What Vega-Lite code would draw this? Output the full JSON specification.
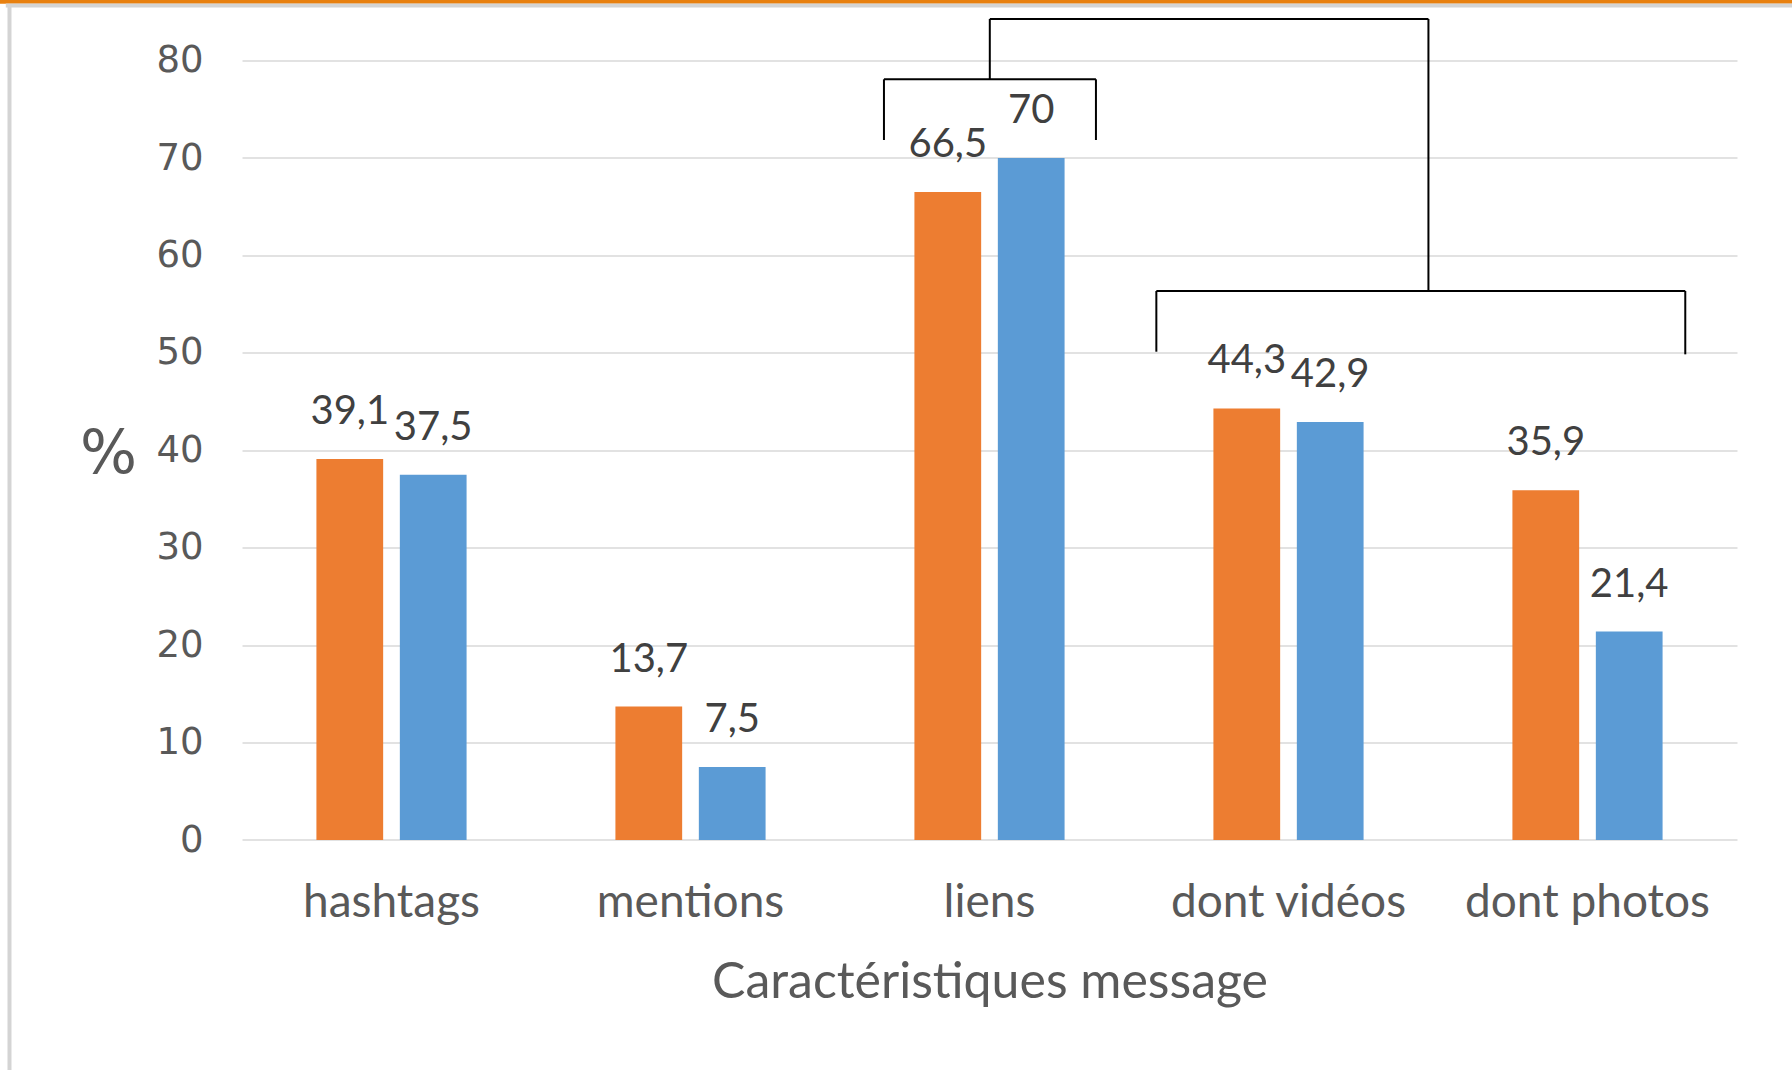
{
  "$schema": "https://vega.github.io/schema/vega-lite/v6.json",
  "width": 1495,
  "height": 779.4,
  "autosize": {"type": "none"},
  "padding": {"left": 242, "top": 60.6, "right": 55, "bottom": 230},
  "background": "white",
  "config": {
    "view": {"stroke": null},
    "locale": {"number": {"decimal": ",", "thousands": " ", "grouping": [3], "currency": ["", " €"]}}
  },
  "datasets": {
    "bars": [
      {"categorie": "hashtags", "serie": "A", "valeur": 39.1},
      {"categorie": "hashtags", "serie": "B", "valeur": 37.5},
      {"categorie": "mentions", "serie": "A", "valeur": 13.7},
      {"categorie": "mentions", "serie": "B", "valeur": 7.5},
      {"categorie": "liens", "serie": "A", "valeur": 66.5},
      {"categorie": "liens", "serie": "B", "valeur": 70},
      {"categorie": "dont vidéos", "serie": "A", "valeur": 44.3},
      {"categorie": "dont vidéos", "serie": "B", "valeur": 42.9},
      {"categorie": "dont photos", "serie": "A", "valeur": 35.9},
      {"categorie": "dont photos", "serie": "B", "valeur": 21.4}
    ],
    "brackets": [
      {"x": 2.147, "y": 71.85, "x2": 2.147, "y2": 78.08},
      {"x": 2.147, "y": 78.08, "x2": 2.856, "y2": 78.08},
      {"x": 2.856, "y": 78.08, "x2": 2.856, "y2": 71.85},
      {"x": 2.501, "y": 78.08, "x2": 2.501, "y2": 84.27},
      {"x": 2.501, "y": 84.27, "x2": 3.968, "y2": 84.27},
      {"x": 3.968, "y": 84.27, "x2": 3.968, "y2": 56.35},
      {"x": 3.058, "y": 56.35, "x2": 4.827, "y2": 56.35},
      {"x": 3.058, "y": 56.35, "x2": 3.058, "y2": 50.12},
      {"x": 4.827, "y": 56.35, "x2": 4.827, "y2": 49.85}
    ],
    "orangeStrip": [{"x": -0.82, "x2": 5.2, "y": 86.05, "y2": 86.05}],
    "greyStrip": [
      {"x": -0.79, "x2": 5.2, "y": 85.66, "y2": 85.66},
      {"x": -0.7776, "x2": -0.7776, "y": 85.7, "y2": -24}
    ]
  },
  "layer": [
    {
      "layer": [
        {
          "data": {"name": "bars"},
          "mark": {"type": "bar"},
          "encoding": {
            "x": {
              "field": "categorie", "type": "nominal",
              "sort": ["hashtags", "mentions", "liens", "dont vidéos", "dont photos"],
              "scale": {"paddingInner": 0.442, "paddingOuter": 0.221},
              "axis": {
                "labelFont": "Lato", "labelFontSize": 46, "labelColor": "#595959",
                "labelPadding": 40, "labelAngle": 0, "labelLimit": 0, "domain": false, "ticks": false,
                "title": "Caractéristiques message", "titleFont": "Lato", "titleFontSize": 50,
                "titleFontWeight": "normal", "titleColor": "#595959",
                "titleY": 157, "titleBaseline": "alphabetic"
              }
            },
            "xOffset": {"field": "serie", "type": "nominal", "scale": {"paddingInner": 0.2, "paddingOuter": 0.1}},
            "y": {
              "field": "valeur", "type": "quantitative",
              "scale": {"domain": [0, 80], "nice": false},
              "axis": {
                "values": [0, 10, 20, 30, 40, 50, 60, 70, 80],
                "labelFont": "DejaVu Sans", "labelFontSize": 37, "labelColor": "#595959",
                "labelPadding": 39, "grid": true, "gridColor": "#D9D9D9", "gridWidth": 1.5,
                "domain": false, "ticks": false,
                "title": "%", "titleAngle": 0, "titleFont": "DejaVu Sans", "titleFontSize": 60,
                "titleFontWeight": "normal", "titleColor": "#595959",
                "titleX": -134, "titleY": 393.6, "titleAlign": "center", "titleBaseline": "middle"
              }
            },
            "color": {
              "field": "serie", "type": "nominal",
              "scale": {"domain": ["A", "B"], "range": ["#ED7D31", "#5B9BD5"]},
              "legend": null
            }
          }
        },
        {
          "data": {"name": "bars"},
          "mark": {"type": "text", "baseline": "middle", "dy": -47, "font": "Lato", "fontSize": 40, "color": "#404040"},
          "encoding": {
            "x": {"field": "categorie", "type": "nominal", "sort": ["hashtags", "mentions", "liens", "dont vidéos", "dont photos"]},
            "xOffset": {"field": "serie", "type": "nominal"},
            "y": {"field": "valeur", "type": "quantitative"},
            "text": {"field": "valeur", "type": "quantitative", "format": ".1~f"}
          }
        }
      ]
    },
    {
      "layer": [
        {
          "data": {"name": "brackets"},
          "mark": {"type": "rule", "color": "#000000", "strokeWidth": 2},
          "encoding": {
            "x": {"field": "x", "type": "quantitative", "scale": {"domain": [0, 5], "nice": false, "zero": false}, "axis": null},
            "x2": {"field": "x2"},
            "y": {"field": "y", "type": "quantitative"},
            "y2": {"field": "y2"}
          }
        },
        {
          "data": {"name": "orangeStrip"},
          "mark": {"type": "rule", "color": "#E8800F", "strokeWidth": 4},
          "encoding": {
            "x": {"field": "x", "type": "quantitative"},
            "x2": {"field": "x2"},
            "y": {"field": "y", "type": "quantitative"},
            "y2": {"field": "y2"}
          }
        },
        {
          "data": {"name": "greyStrip"},
          "mark": {"type": "rule", "color": "#D4D4D4", "strokeWidth": 4},
          "encoding": {
            "x": {"field": "x", "type": "quantitative"},
            "x2": {"field": "x2"},
            "y": {"field": "y", "type": "quantitative"},
            "y2": {"field": "y2"}
          }
        }
      ]
    }
  ],
  "resolve": {"scale": {"x": "independent"}}
}
